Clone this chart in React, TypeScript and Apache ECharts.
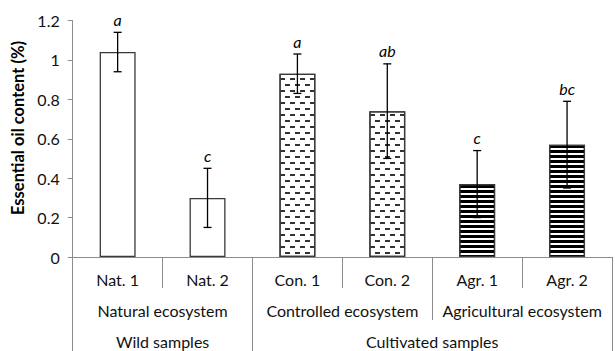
import React, { useEffect, useRef } from "react";
import * as echarts from "echarts";

const categories = ["Nat. 1", "Nat. 2", "Con. 1", "Con. 2", "Agr. 1", "Agr. 2"];
const oilContent = [1.04, 0.3, 0.93, 0.74, 0.37, 0.57];
const errors = [0.1, 0.15, 0.1, 0.24, 0.17, 0.22];
const letters = ["a", "c", "a", "ab", "c", "bc"];
const ecosystems = ["Natural ecosystem", "Controlled ecosystem", "Agricultural ecosystem"];
const sampleGroups = ["Wild samples", "Cultivated samples"];
const sampleGroupSpans = [2, 4];
const yTicks = [0, 0.2, 0.4, 0.6, 0.8, 1, 1.2];

const FONT = "Lato, 'Open Sans', sans-serif";
const AXIS_GREY = "#8c8c8c";
const FS = 16;

export default function App() {
  const ref = useRef<HTMLDivElement>(null);
  useEffect(() => {
    if (!ref.current) return;
    const chart = echarts.init(ref.current, undefined, { renderer: "svg" });

    const total = sampleGroupSpans.reduce((a, b) => a + b, 0);
    const lvl3Data: string[] = new Array(total + 1).fill("");
    const lvl3Bounds: number[] = [0];
    let start = 0;
    sampleGroups.forEach((g, k) => {
      const span = sampleGroupSpans[k];
      lvl3Data[start + span / 2] = g;
      start += span;
      lvl3Bounds.push(start);
    });

    const decalDash = {
      symbol: "rect",
      symbolSize: 1,
      color: "#333",
      dashArrayX: [[4.5, 4.5], [0, 4.5, 4.5, 0]],
      dashArrayY: [1.4, 3.4],
      rotation: 0,
    };
    const decalStripe = {
      symbol: "rect",
      symbolSize: 1,
      color: "#000",
      dashArrayX: [1, 0],
      dashArrayY: [2.4, 2],
      rotation: 0,
    };
    const patternFor = (i: number) => {
      const g = Math.floor(i / 2);
      if (g === 1) return decalDash;
      if (g === 2) return decalStripe;
      return undefined;
    };

    const labelStyle = { fontSize: FS, color: "#111", fontFamily: FONT, interval: 0 };

    chart.setOption({
      animation: false,
      textStyle: { fontFamily: FONT },
      grid: { left: 72.7, right: -4, top: 20.5, bottom: 94, containLabel: false },
      xAxis: [
        {
          type: "category",
          data: categories,
          axisLine: { show: true, lineStyle: { color: AXIS_GREY, width: 1 } },
          axisTick: { show: true, length: 31, lineStyle: { color: AXIS_GREY } },
          axisLabel: { ...labelStyle, margin: 14 },
        },
        {
          type: "category",
          data: ecosystems,
          position: "bottom",
          offset: 31,
          axisLine: { show: false },
          axisTick: { show: true, length: 32, lineStyle: { color: AXIS_GREY } },
          axisLabel: { ...labelStyle, margin: 14.5 },
        },
        {
          type: "category",
          data: lvl3Data,
          boundaryGap: false,
          position: "bottom",
          offset: 63,
          axisLine: { show: false },
          axisTick: {
            show: true,
            length: 32,
            interval: (idx: number) => lvl3Bounds.includes(idx),
            lineStyle: { color: AXIS_GREY },
          },
          axisLabel: { ...labelStyle, margin: 13.5 },
        },
      ],
      yAxis: {
        type: "value",
        min: yTicks[0],
        max: yTicks[yTicks.length - 1],
        interval: 0.2,
        axisLine: { show: true, lineStyle: { color: AXIS_GREY } },
        axisTick: { show: true, length: 5, lineStyle: { color: AXIS_GREY } },
        splitLine: { show: false },
        axisLabel: { margin: 13, fontSize: FS, color: "#111", fontFamily: FONT },
      },
      graphic: [
        {
          type: "text",
          x: 18,
          y: 128,
          rotation: Math.PI / 2,
          style: {
            text: "Essential oil content (%)",
            font: `bold 16.5px ${FONT}`,
            fill: "#000",
            align: "center",
            verticalAlign: "middle",
          },
        },
      ],
      series: [
        {
          type: "bar",
          xAxisIndex: 0,
          yAxisIndex: 0,
          barWidth: "40%",
          data: oilContent.map((v, i) => ({
            value: v,
            itemStyle: {
              color: "#fff",
              borderColor: "#3a3a3a",
              borderWidth: 1.3,
              decal: patternFor(i),
            },
          })),
          z: 2,
        },
        {
          type: "custom",
          xAxisIndex: 0,
          yAxisIndex: 0,
          z: 5,
          data: oilContent.map((v, i) => [i, v, errors[i]]),
          encode: { x: 0, y: 1 },
          renderItem: (params: any, api: any) => {
            const i = api.value(0);
            const v = api.value(1);
            const e = api.value(2);
            const top = api.coord([i, v + e]);
            const bot = api.coord([i, v - e]);
            const cap = 4;
            const ls = { stroke: "#000", lineWidth: 1.3 };
            return {
              type: "group",
              children: [
                { type: "line", shape: { x1: top[0], y1: top[1], x2: bot[0], y2: bot[1] }, style: ls },
                { type: "line", shape: { x1: top[0] - cap, y1: top[1], x2: top[0] + cap, y2: top[1] }, style: ls },
                { type: "line", shape: { x1: bot[0] - cap, y1: bot[1], x2: bot[0] + cap, y2: bot[1] }, style: ls },
                {
                  type: "text",
                  x: top[0],
                  y: top[1] - 13,
                  style: {
                    text: letters[params.dataIndex],
                    font: `italic 16px ${FONT}`,
                    fill: "#000",
                    align: "center",
                    verticalAlign: "middle",
                  },
                },
              ],
            };
          },
        },
      ],
    });
    return () => chart.dispose();
  }, []);
  return <div ref={ref} style={{ width: 615, height: 351, position: "absolute", left: 0, top: 0, background: "#fff" }} />;
}
